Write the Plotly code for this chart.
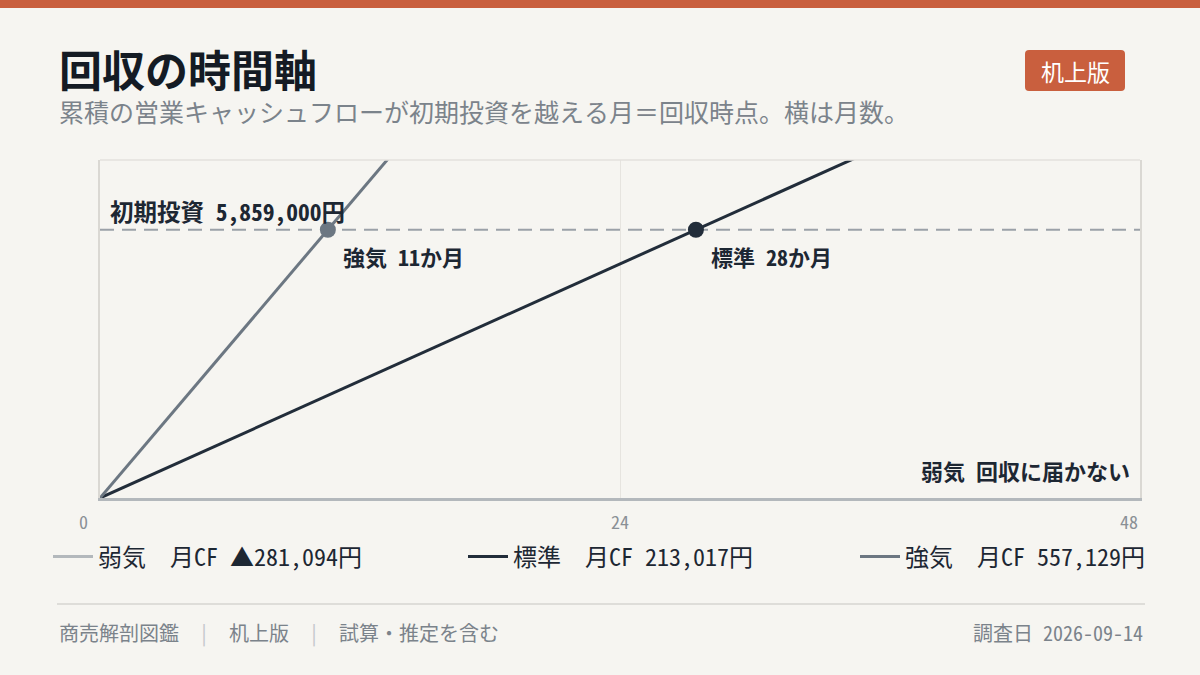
import plotly.graph_objects as go

# === データ ===
investment = 5859000
scenarios = ["弱気", "標準", "強気"]
monthly_cf = [-281094, 213017, 557129]
payback_text = ["回収に届かない", "28か月", "11か月"]
legend_text = ["弱気　月CF ▲281,094円", "標準　月CF 213,017円", "強気　月CF 557,129円"]
months = [0, 48]
tick_vals = [0, 24, 48]
tick_text = ["0", "24", "48"]

colors = ["#b3b8bc", "#222d3a", "#6c7782"]
BG = "#f6f5f1"
ACCENT = "#c95f3e"
INK = "#1d2733"
MUTED = "#7b838b"
FONT = "Noto Sans Mono CJK JP, Noto Sans CJK JP"

# プロット領域 (px)
L, R, T, B = 100, 1140, 160, 498
W, H = 1200, 675
y_max = investment * 1.26


def px(x):
    return (x - L) / (R - L)


def py(y):
    return (B - y) / (B - T)


def rounded_rect(x0, y0, x1, y1, r):
    # 角丸の四角 (paper 座標の path)
    pts = [
        f"M {px(x0 + r)} {py(y0)}", f"L {px(x1 - r)} {py(y0)}",
        f"Q {px(x1)} {py(y0)} {px(x1)} {py(y0 + r)}",
        f"L {px(x1)} {py(y1 - r)}",
        f"Q {px(x1)} {py(y1)} {px(x1 - r)} {py(y1)}",
        f"L {px(x0 + r)} {py(y1)}",
        f"Q {px(x0)} {py(y1)} {px(x0)} {py(y1 - r)}",
        f"L {px(x0)} {py(y0 + r)}",
        f"Q {px(x0)} {py(y0)} {px(x0 + r)} {py(y0)} Z",
    ]
    return " ".join(pts)


fig = go.Figure()

for i, name in enumerate(scenarios):
    cum = [monthly_cf[i] * m for m in months]
    lg = "legend" if i == 0 else f"legend{i + 1}"
    fig.add_trace(go.Scatter(
        x=months, y=cum, mode="lines", name=legend_text[i],
        line=dict(color=colors[i], width=3),
        legend=lg, hoverinfo="skip",
    ))

# 初期投資ライン
fig.add_trace(go.Scatter(
    x=[months[0], months[-1]], y=[investment, investment], mode="lines",
    line=dict(color="#9ba1a8", width=2, dash="14px,8px"),
    showlegend=False, hoverinfo="skip",
))

# 回収時点マーカー
for i in [1, 2]:
    m = investment / monthly_cf[i]
    fig.add_trace(go.Scatter(
        x=[m], y=[investment], mode="markers",
        marker=dict(color=colors[i], size=16),
        showlegend=False, hoverinfo="skip",
    ))
    fig.add_annotation(
        x=m, y=investment, xref="x", yref="y",
        text=f"{scenarios[i]} {payback_text[i]}",
        showarrow=False, xanchor="left", yanchor="top",
        xshift=13, yshift=-8,
        font=dict(family=FONT, size=22, color=INK, weight=700),
    )

fig.add_annotation(
    x=0, y=investment, xref="x", yref="y",
    text=f"初期投資 {investment:,}円",
    showarrow=False, xanchor="left", yanchor="bottom",
    xshift=8, yshift=0,
    font=dict(family=FONT, size=23.5, color=INK, weight=700),
)
fig.add_annotation(
    x=months[-1], y=0, xref="x", yref="y",
    text=f"{scenarios[0]} {payback_text[0]}",
    showarrow=False, xanchor="right", yanchor="bottom",
    xshift=-8, yshift=10,
    font=dict(family=FONT, size=22, color=INK, weight=700),
)

# x 目盛りラベル
for v, t in zip(tick_vals, tick_text):
    if v == tick_vals[0]:
        anchor, shift = "right", -10
    elif v == tick_vals[-1]:
        anchor, shift = "right", 0
    else:
        anchor, shift = "center", 0
    fig.add_annotation(
        x=v, y=0, xref="x", yref="y", text=t, showarrow=False,
        xanchor=anchor, yanchor="top", xshift=shift, yshift=-8,
        font=dict(family=FONT, size=18, color="#8a9096"),
    )

# ヘッダー
fig.add_shape(type="rect", xref="paper", yref="paper",
              x0=px(0), x1=px(W), y0=py(-2), y1=py(8),
              fillcolor=ACCENT, line_width=0, layer="below")
fig.add_annotation(x=px(57), y=py(68), xref="paper", yref="paper",
                   text="回収の時間軸", showarrow=False,
                   xanchor="left", yanchor="middle",
                   font=dict(family=FONT, size=43, color="#141b24", weight=700))
fig.add_annotation(x=px(57), y=py(111), xref="paper", yref="paper",
                   text="累積の営業キャッシュフローが初期投資を越える月＝回収時点。横は月数。",
                   showarrow=False, xanchor="left", yanchor="middle",
                   font=dict(family=FONT, size=25, color=MUTED))
fig.add_shape(type="path", xref="paper", yref="paper",
              path=rounded_rect(1025, 50, 1125, 91, 4),
              fillcolor=ACCENT, line_width=0)
fig.add_annotation(x=px(1075), y=py(71), xref="paper", yref="paper",
                   text="机上版", showarrow=False,
                   xanchor="center", yanchor="middle",
                   font=dict(family=FONT, size=23, color="white", weight=500))

# フッター
sep = "<span style='color:#c3c7cb'>|</span>"
fig.add_shape(type="line", xref="paper", yref="paper",
              x0=px(57), x1=px(1145), y0=py(604), y1=py(604),
              line=dict(color="#d6d5d1", width=1.5))
fig.add_annotation(x=px(57), y=py(632), xref="paper", yref="paper",
                   text=f"商売解剖図鑑  {sep}  机上版  {sep}  試算・推定を含む",
                   showarrow=False, xanchor="left", yanchor="middle",
                   font=dict(family=FONT, size=20, color=MUTED))
fig.add_annotation(x=px(1145), y=py(632), xref="paper", yref="paper",
                   text="調査日 2026-09-14",
                   showarrow=False, xanchor="right", yanchor="middle",
                   font=dict(family=FONT, size=20, color=MUTED))

# 上枠
fig.add_shape(type="line", xref="paper", yref="paper",
              x0=0, x1=1, y0=1, y1=1, line=dict(color="#e3e1dc", width=1.5))

legend_style = dict(
    orientation="h", yanchor="middle", xanchor="left",
    font=dict(family=FONT, size=24, color=INK),
    bgcolor="rgba(0,0,0,0)", itemwidth=40,
)
legend_x = [55, 470, 862]
fig.update_layout(
    width=W, height=H,
    margin=dict(l=L, r=W - R, t=T, b=H - B),
    paper_bgcolor=BG, plot_bgcolor=BG,
    font=dict(family=FONT),
    legend=dict(x=px(legend_x[0] - 7), y=py(557), **legend_style),
    legend2=dict(x=px(legend_x[1] - 7), y=py(557), **legend_style),
    legend3=dict(x=px(legend_x[2] - 7), y=py(557), **legend_style),
)
fig.update_xaxes(
    range=[months[0], months[-1]], tickvals=tick_vals, showticklabels=False,
    showgrid=True, gridcolor="#e6e4df", gridwidth=1, zeroline=False,
    showline=True, linecolor=colors[0], linewidth=3,
)
fig.update_yaxes(
    range=[0, y_max], showticklabels=False, showgrid=False, zeroline=False,
    showline=True, linecolor="#dad8d3", linewidth=1.5, mirror=True,
)

fig.write_html("out.html", config={"displayModeBar": False},
               post_script="document.body.style.margin='0';")
